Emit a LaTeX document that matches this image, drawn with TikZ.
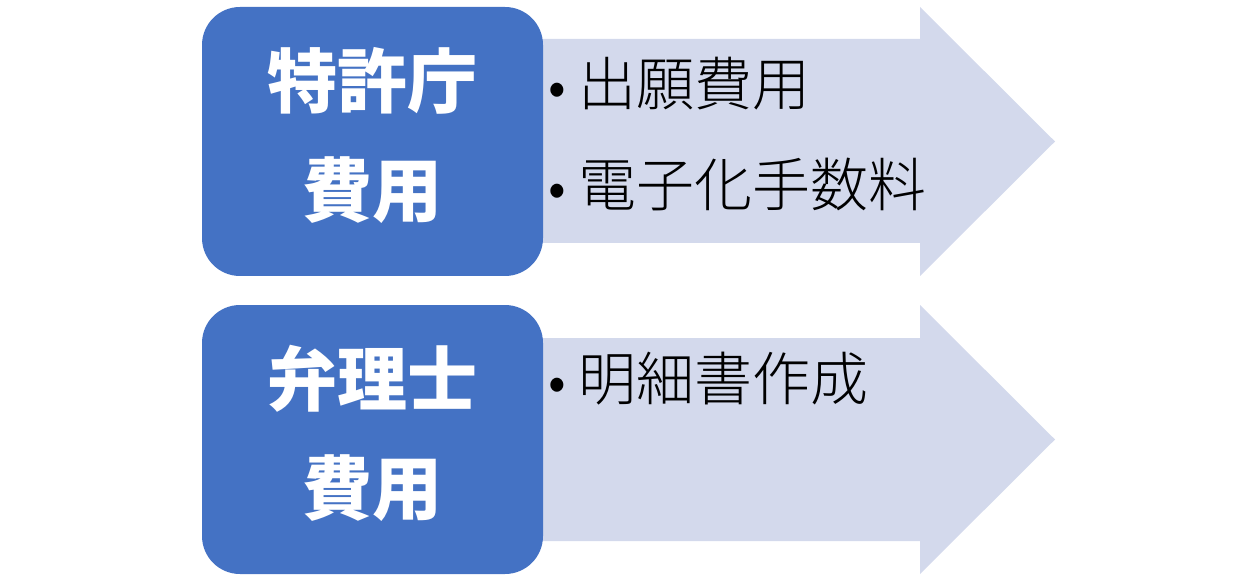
\documentclass[tikz,border=0pt]{standalone}
\usepackage{fontspec}
\newfontfamily\jp{Noto Sans CJK JP}
\newfontfamily\jpl{Noto Sans CJK JP Light}
\definecolor{boxblue}{HTML}{4472C4}
\definecolor{arrowfill}{HTML}{D3D9EC}
\tikzset{
  cbox/.style={fill=boxblue, draw=none, rounded corners=38pt, minimum width=341pt, minimum height=269pt, inner sep=0pt},
  ctitle/.style={text=white, align=center, font=\jp\bfseries\fontsize{70}{109}\selectfont, inner sep=0pt},
  citem/.style={text=black, anchor=west, font=\jpl\fontsize{58}{60}\selectfont, inner sep=0pt},
  carrow/.style={fill=arrowfill, draw=none}
}
\newcommand{\bul}{\makebox[30pt][l]{\jp\fontsize{52}{52}\selectfont •}}
\begin{document}
\begin{tikzpicture}[x=1pt,y=-1pt]
\useasboundingbox (0,0) rectangle (1248,588);
% arrows
\coordinate (a1s) at (450,39);
\fill[carrow] (a1s) -- (920,39) -- (920,7) -- (1055,141.5) -- (920,276) -- (920,243) -- (450,243) -- cycle;
\coordinate (a2s) at (450,338);
\fill[carrow] (a2s) -- (920,338) -- (920,305) -- (1055,439.5) -- (920,574) -- (920,541) -- (450,541) -- cycle;
% boxes
\node[cbox] (b1) at (372.5,141.5) {};
\node[ctitle] (t1) at (372.5,135) {特許庁\\費用};
\node[cbox] (b2) at (372.5,439.5) {};
\node[ctitle] (t2) at (372.5,433) {弁理士\\費用};
% items
\node[citem] (i1) at (548,84) {\bul 出願費用};
\node[citem] (i2) at (548,184) {\bul 電子化手数料};
\node[citem] (i3) at (548,379) {\bul 明細書作成};
\end{tikzpicture}
\end{document}
